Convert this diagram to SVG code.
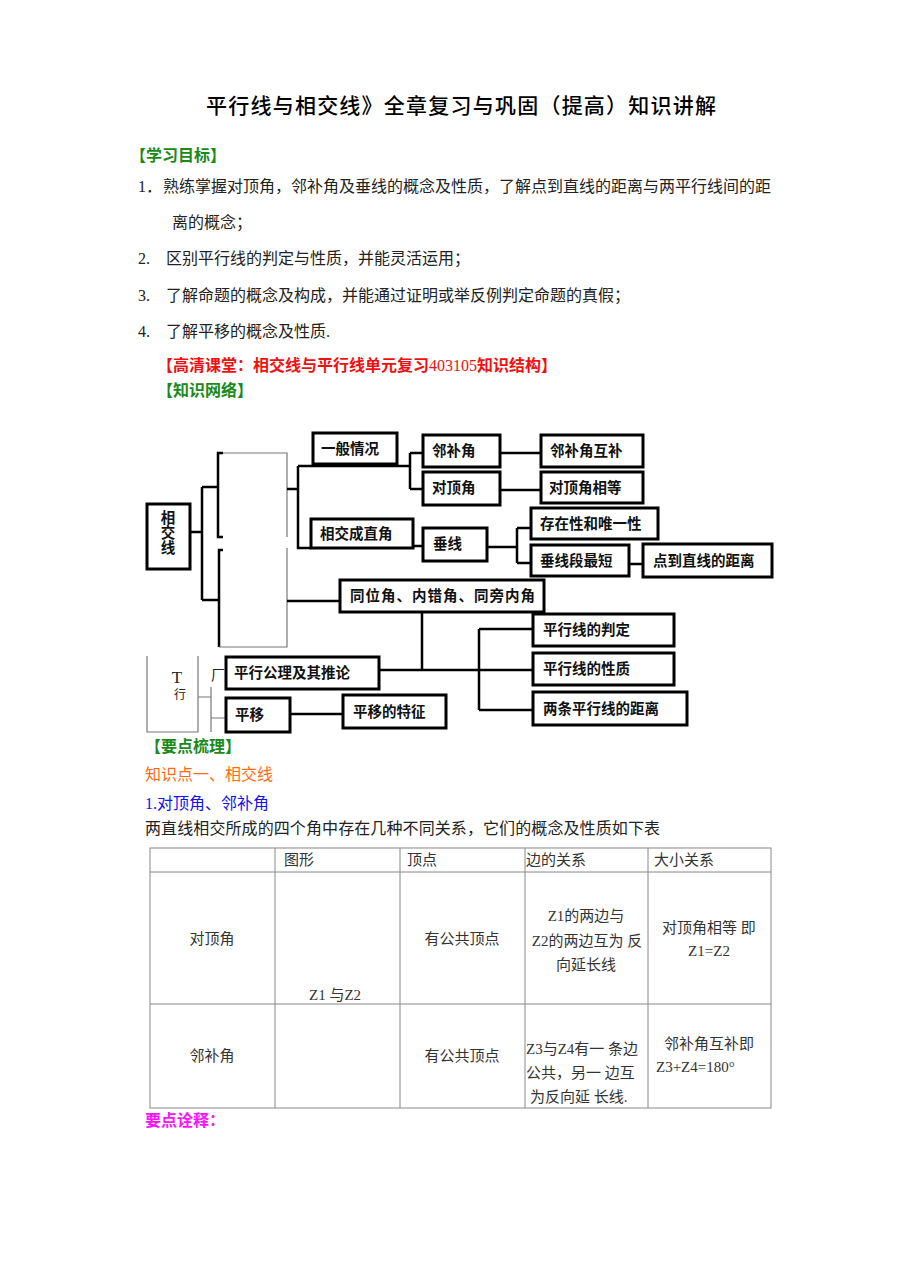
<svg xmlns="http://www.w3.org/2000/svg" width="920" height="1273" viewBox="0 0 920 1273">
<style>
text{font-family:"Liberation Serif","Noto Sans CJK SC",serif;dominant-baseline:central}
.t{font-size:21px;font-weight:500;fill:#000}
.b{font-size:16px;fill:#222}
.g{font-size:16px;font-weight:bold;fill:#1a8a1a}
.r{font-size:16px;font-weight:bold;fill:#f01010}
.o{font-size:16px;fill:#ff6a10}
.bl{font-size:16px;fill:#1010f0}
.m{font-size:16px;font-weight:bold;fill:#ff10ff}
.bx rect{fill:#fff;stroke:#000;stroke-width:3}
.bx text{font-size:14.5px;font-weight:bold;fill:#111}
.c{fill:none;stroke:#000;stroke-width:2.5}
.th{fill:none;stroke:#777;stroke-width:1.2}
.tb{fill:none;stroke:#888;stroke-width:1}
.tt{font-size:15px;fill:#333}
.tc{font-size:15px;fill:#333;text-anchor:middle}
</style>
<rect width="920" height="1273" fill="#fff"/>
<text class="t" x="206" y="106" textLength="510">平行线与相交线》全章复习与巩固（提高）知识讲解</text>
<text class="g" x="130" y="155">【学习目标】</text>
<text class="b" x="138" y="186">1．</text>
<text class="b" x="163" y="186" textLength="608">熟练掌握对顶角，邻补角及垂线的概念及性质，了解点到直线的距离与两平行线间的距</text>
<text class="b" x="172" y="222">离的概念；</text>
<text class="b" x="138" y="258">2.</text>
<text class="b" x="166" y="258">区别平行线的判定与性质，并能灵活运用；</text>
<text class="b" x="138" y="295">3.</text>
<text class="b" x="166" y="295" textLength="464">了解命题的概念及构成，并能通过证明或举反例判定命题的真假；</text>
<text class="b" x="138" y="331">4.</text>
<text class="b" x="166" y="331">了解平移的概念及性质.</text>
<text class="r" x="157" y="365" textLength="400">【高清课堂：相交线与平行线单元复习<tspan font-weight="normal">403105</tspan>知识结构】</text>
<text class="g" x="157" y="390">【知识网络】</text>

<g id="connectors">
<path class="c" d="M190,532 H202 M202,487 V600 M202,487 H218 M202,600 H219"/>
<path class="c" d="M223,453 H218 V537 H223 M223,550 H219 V647"/>
<path class="th" d="M223,453 H287 V537 M287,548 V647 H219"/>
<path class="c" d="M287,489 H298 M298,466 V548 H311 M298,466 H410 M410,453 V489 M410,453 H423 M410,489 H423"/>
<path class="c" d="M500,453 H541 M500,490 H541"/>
<path class="c" d="M413,546 H423 M487,547 H517 M517,528 V563 M517,528 H531 M517,563 H531 M629,564 H643"/>
<path class="c" d="M287,601 H340 M422,612 V670 M379,670 H533 M479,629 V710 M479,629 H533 M479,710 H533"/>
<path class="c" d="M290,714 H343"/>
<path class="th" d="M147,656 V732 H198 V656 M198,697 H211 M211,687 V732 M211,718 H226"/>
</g>

<g id="n-xjx" class="bx"><rect x="147" y="504" width="43" height="65"/><text x="168" y="518" text-anchor="middle">相</text><text x="168" y="533" text-anchor="middle">交</text><text x="168" y="548" text-anchor="middle">线</text></g>
<g id="n-ybqk" class="bx"><rect x="313" y="433" width="84" height="31"/><text x="321" y="449">一般情况</text></g>
<g id="n-lbj" class="bx"><rect x="423" y="435" width="77" height="32"/><text x="432" y="451">邻补角</text></g>
<g id="n-ddj" class="bx"><rect x="423" y="472" width="77" height="33"/><text x="432" y="488">对顶角</text></g>
<g id="n-lbjhb" class="bx"><rect x="541" y="435" width="102" height="32"/><text x="550" y="451">邻补角互补</text></g>
<g id="n-ddjxd" class="bx"><rect x="541" y="472" width="102" height="31"/><text x="549" y="488">对顶角相等</text></g>
<g id="n-xjczj" class="bx"><rect x="311" y="519" width="102" height="29"/><text x="320" y="534">相交成直角</text></g>
<g id="n-cx" class="bx"><rect x="423" y="528" width="64" height="33"/><text x="433" y="544">垂线</text></g>
<g id="n-czx" class="bx"><rect x="531" y="508" width="127" height="31"/><text x="540" y="524">存在性和唯一性</text></g>
<g id="n-cxdzd" class="bx"><rect x="531" y="545" width="98" height="31"/><text x="540" y="561">垂线段最短</text></g>
<g id="n-ddzx" class="bx"><rect x="643" y="544" width="129" height="33"/><text x="653" y="561">点到直线的距离</text></g>
<g id="n-twj" class="bx"><rect x="340" y="580" width="204" height="32"/><text x="350" y="596" textLength="185">同位角、内错角、同旁内角</text></g>
<g id="n-pxpd" class="bx"><rect x="533" y="614" width="141" height="32"/><text x="543" y="630">平行线的判定</text></g>
<g id="n-pxxz" class="bx"><rect x="533" y="653" width="141" height="32"/><text x="543" y="669">平行线的性质</text></g>
<g id="n-ltpx" class="bx"><rect x="533" y="692" width="154" height="33"/><text x="543" y="709">两条平行线的距离</text></g>
<g id="n-pxgl" class="bx"><rect x="226" y="657" width="153" height="32"/><text x="234" y="673">平行公理及其推论</text></g>
<g id="n-py" class="bx"><rect x="226" y="698" width="64" height="34"/><text x="235" y="715">平移</text></g>
<g id="n-pytz" class="bx"><rect x="343" y="695" width="103" height="33"/><text x="353" y="712">平移的特征</text></g>
<g id="n-t">
<text x="177" y="677" font-size="17" text-anchor="middle" fill="#222">T</text>
<text x="180" y="695" font-size="12" text-anchor="middle" fill="#222">行</text>
<text x="218" y="675" font-size="14" text-anchor="middle" fill="#222">厂</text>
</g>

<text class="g" x="145" y="746">【要点梳理】</text>
<text class="o" x="145" y="774">知识点一、相交线</text>
<text class="bl" x="145" y="803">1.对顶角、邻补角</text>
<text class="b" x="145" y="828" textLength="515">两直线相交所成的四个角中存在几种不同关系，它们的概念及性质如下表</text>

<g id="table">
<rect class="tb" x="150" y="848" width="621" height="260"/>
<path class="tb" d="M150,872 H771 M150,1004 H771 M275,848 V1108 M400,848 V1108 M525,848 V1108 M648,848 V1108"/>
<text class="tt" x="284" y="860">图形</text>
<text class="tt" x="407" y="860">顶点</text>
<text class="tt" x="526" y="860">边的关系</text>
<text class="tt" x="654" y="860">大小关系</text>
<text class="tc" x="212" y="939">对顶角</text>
<text class="tt" x="309" y="995">Z1  与Z2</text>
<text class="tc" x="462" y="939">有公共顶点</text>
<text class="tc" x="586" y="916">Z1的两边与</text>
<text class="tc" x="587" y="941">Z2的两边互为 反</text>
<text class="tc" x="586" y="965">向延长线</text>
<text class="tc" x="709" y="928">对顶角相等 即</text>
<text class="tc" x="709" y="951">Z1=Z2</text>
<text class="tc" x="212" y="1056">邻补角</text>
<text class="tc" x="462" y="1056">有公共顶点</text>
<text class="tt" x="526" y="1049">Z3与Z4有一 条边</text>
<text class="tt" x="526" y="1073">公共，另一 边互</text>
<text class="tt" x="530" y="1097">为反向延 长线.</text>
<text class="tc" x="709" y="1044">邻补角互补即</text>
<text class="tt" x="656" y="1067">Z3+Z4=180°</text>
</g>
<text class="m" x="145" y="1120">要点诠释：</text>
</svg>
